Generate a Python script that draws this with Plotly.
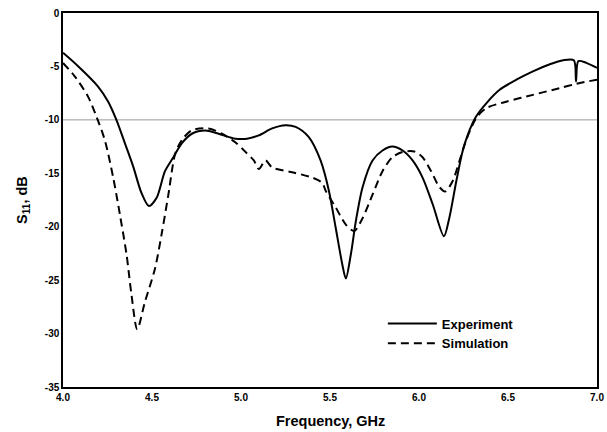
import plotly.graph_objects as go

exp_f = [4.0, 4.085, 4.197, 4.254, 4.30, 4.348, 4.395, 4.44, 4.483, 4.526, 4.573, 4.62, 4.667,
         4.724, 4.80, 4.874, 4.968, 5.034, 5.10, 5.175, 5.25, 5.307, 5.38, 5.447, 5.494, 5.532,
         5.57, 5.589, 5.617, 5.645, 5.683, 5.739, 5.795, 5.85, 5.908, 5.964, 6.02, 6.077, 6.14,
         6.17, 6.21, 6.246, 6.284, 6.32, 6.378, 6.453, 6.547, 6.64, 6.735, 6.81, 6.87, 6.882,
         6.895, 6.94, 7.0]
exp_s = [-3.72, -4.98, -6.88, -8.3, -10.0, -12.2, -14.4, -16.8, -18.07, -17.3, -14.8, -13.5, -12.2,
         -11.3, -11.0, -11.3, -11.76, -11.76, -11.45, -10.8, -10.5, -10.66, -11.6, -13.8, -16.65, -20.1,
         -23.6, -24.85, -22.6, -19.5, -16.3, -13.8, -12.87, -12.5, -12.87, -13.8, -15.4, -17.9, -20.9,
         -19.2, -15.7, -12.87, -10.97, -9.7, -8.45, -7.19, -6.24, -5.46, -4.8, -4.42, -4.42, -6.4,
         -4.5, -4.67, -5.14]

sim_f = [4.0, 4.066, 4.14, 4.188, 4.235, 4.282, 4.32, 4.357, 4.385, 4.417, 4.46, 4.517, 4.554,
         4.592, 4.63, 4.667, 4.724, 4.818, 4.893, 4.968, 5.025, 5.072, 5.10, 5.138, 5.175, 5.288,
         5.40, 5.457, 5.476, 5.532, 5.589, 5.636, 5.683, 5.739, 5.795, 5.85, 5.908, 5.974, 6.02,
         6.068, 6.115, 6.147, 6.19, 6.228, 6.265, 6.32, 6.378, 6.49, 6.64, 6.79, 6.885, 7.0]
sim_s = [-4.67, -5.93, -7.8, -9.7, -11.9, -15.4, -18.9, -22.6, -26.4, -29.6, -27.06, -23.9, -20.7,
         -17.0, -13.2, -11.9, -10.97, -10.8, -11.3, -12.1, -13.0, -13.8, -14.6, -13.8, -14.45, -14.9,
         -15.4, -15.9, -16.65, -18.2, -19.8, -20.4, -19.2, -17.0, -14.8, -13.5, -13.0, -12.96, -13.5,
         -14.8, -16.3, -16.7, -15.7, -13.8, -11.9, -9.87, -8.9, -8.3, -7.66, -7.03, -6.62, -6.24]

x_ticks = [4.0, 4.5, 5.0, 5.5, 6.0, 6.5, 7.0]
y_ticks = [0, -5, -10, -15, -20, -25, -30, -35]

font = "Liberation Sans, Arial, sans-serif"

fig = go.Figure()
fig.add_trace(go.Scatter(x=exp_f, y=exp_s, mode="lines", name="<b>Experiment</b>",
                         line=dict(color="black", width=2, shape="spline", smoothing=0.8)))
fig.add_trace(go.Scatter(x=sim_f, y=sim_s, mode="lines", name="<b>Simulation</b>",
                         line=dict(color="black", width=2, dash="8px,5px", shape="spline", smoothing=0.8)))

fig.add_shape(type="line", xref="x", yref="y", x0=4.0, x1=7.0, y0=-10, y1=-10,
              line=dict(color="#999999", width=1), layer="below")

fig.add_annotation(text="<b>Frequency, GHz</b>", xref="paper", yref="paper",
                   x=0.5, y=-0.092, xanchor="center", yanchor="middle",
                   showarrow=False, font=dict(size=14.5, family=font))
fig.add_annotation(text="<b>S<sub>11</sub>, dB</b>", xref="paper", yref="paper",
                   x=-0.075, y=0.5, xanchor="center", yanchor="middle", textangle=-90,
                   showarrow=False, font=dict(size=14.5, family=font))

fig.update_layout(
    width=607, height=432,
    margin=dict(l=63, r=10, t=13, b=45),
    paper_bgcolor="white", plot_bgcolor="white",
    font=dict(family=font, color="black"),
    showlegend=True,
    legend=dict(x=0.599, y=0.143, xanchor="left", yanchor="middle",
                bgcolor="rgba(0,0,0,0)", font=dict(size=13, family=font),
                tracegroupgap=0, itemwidth=49),
    xaxis=dict(range=[4.0, 7.0], tickvals=x_ticks, ticktext=[f"<b>{v:.1f}</b>" for v in x_ticks],
               showgrid=False, zeroline=False, showline=True, linecolor="black", linewidth=1.5,
               mirror=True, ticks="", tickfont=dict(size=10), automargin=False,
               ticklabeloverflow="allow"),
    yaxis=dict(range=[-35, 0], tickvals=y_ticks, ticktext=[f"<b>{v}</b>" for v in y_ticks],
               showgrid=False, zeroline=False, showline=True, linecolor="black", linewidth=1.5,
               mirror=True, ticks="", tickfont=dict(size=10), automargin=False,
               ticklabeloverflow="allow"),
)

fig.write_html("out.html", config={"displayModeBar": False},
               post_script="document.body.style.margin='0px';")
